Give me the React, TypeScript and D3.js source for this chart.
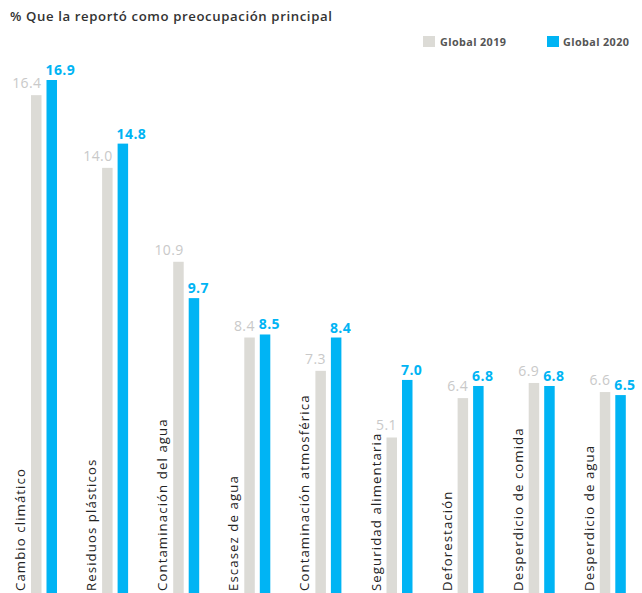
import React from "react";
import * as d3 from "d3";

const categories = [
  "Cambio climático",
  "Residuos plásticos",
  "Contaminación del agua",
  "Escasez de agua",
  "Contaminación atmosférica",
  "Seguridad alimentaria",
  "Deforestación",
  "Desperdicio de comida",
  "Desperdicio de agua",
];
const values2019 = [16.4, 14.0, 10.9, 8.4, 7.3, 5.1, 6.4, 6.9, 6.6];
const values2020 = [16.9, 14.8, 9.7, 8.5, 8.4, 7.0, 6.8, 6.8, 6.5];
const seriesNames = ["Global 2019", "Global 2020"];
const title = "% Que la reportó como preocupación principal";

const W = 642;
const H = 593;
const GRAY = "#dcdbd6";
const BLUE = "#00b4f4";
const FONT = "'Open Sans', Lato, sans-serif";

export default function App() {
  const x = d3
    .scaleBand<string>()
    .domain(categories)
    .range([15, 15 + 71.1 * categories.length])
    .paddingInner(0)
    .paddingOuter(0);
  const y = d3.scaleLinear().domain([0, 16.9]).range([592, 80]);
  const barW = 10.5;
  const grayOff = 16;
  const blueOff = grayOff + 15.5;
  const fmt = d3.format(".1f");

  return (
    <svg
      width={W}
      height={H}
      style={{ position: "absolute", left: 0, top: 0, background: "#fff" }}
      fontFamily={FONT}
    >
      <rect width={W} height={H} fill="#fff" />
      <text x={10} y={21} fontSize={13.2} fontWeight={600} fill="#333" letterSpacing={0.6}>
        {title}
      </text>
      {/* legend */}
      <g>
        <rect x={423} y={36} width={12} height={11} fill={GRAY} />
        <text x={440} y={45.5} fontSize={10.8} fontWeight={700} fill="#555" letterSpacing={0.4}>
          {seriesNames[0]}
        </text>
        <rect x={547} y={36} width={12} height={11} fill={BLUE} />
        <text x={563} y={45.5} fontSize={10.8} fontWeight={700} fill="#555" letterSpacing={0.4}>
          {seriesNames[1]}
        </text>
      </g>
      {categories.map((c, i) => {
        const x0 = x(c)!;
        const gx = x0 + grayOff;
        const bx = x0 + blueOff;
        const v1 = values2019[i];
        const v2 = values2020[i];
        return (
          <g key={c}>
            <rect x={gx} y={y(v1)} width={barW} height={y(0) - y(v1) + 2} fill={GRAY} />
            <rect x={bx} y={y(v2)} width={barW} height={y(0) - y(v2) + 2} fill={BLUE} />
            <text
              x={gx + barW}
              y={y(v1) - 7}
              textAnchor="end"
              fontSize={14}
              fill="#c9c9c9"
              letterSpacing={0.4}
            >
              {fmt(v1)}
            </text>
            <text
              x={bx - 1}
              y={y(v2) - 5}
              fontSize={14}
              fontWeight={700}
              fill={BLUE}
              letterSpacing={0.4}
            >
              {fmt(v2)}
            </text>
            <text
              transform={`translate(${gx - 6},591) rotate(-90)`}
              fontSize={13.2}
              fontWeight={500}
              fill="#222"
              letterSpacing={1.1}
            >
              {c}
            </text>
          </g>
        );
      })}
    </svg>
  );
}
